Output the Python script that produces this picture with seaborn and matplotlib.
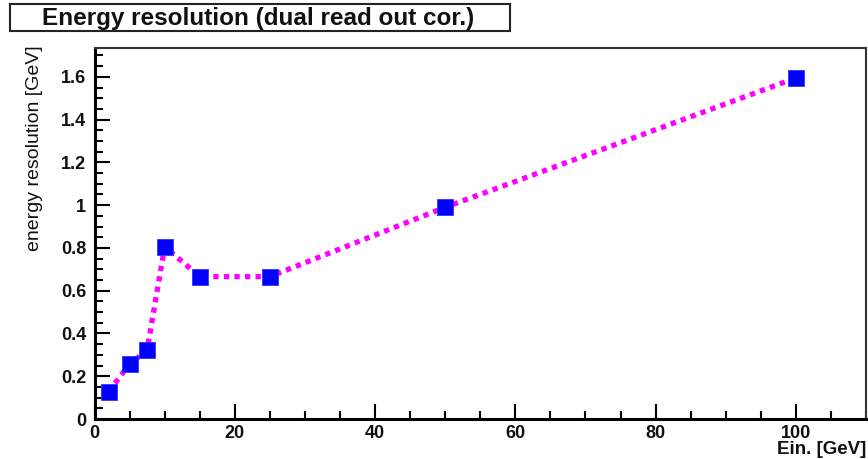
import matplotlib
matplotlib.use("Agg")
import matplotlib.pyplot as plt
from matplotlib.patches import Rectangle
from matplotlib.ticker import MultipleLocator, FuncFormatter
import seaborn as sns
import pandas as pd

# Beam energy and measured energy resolution
energy_in = [2, 5, 7.5, 10, 15, 25, 50, 100]
resolution = [0.128, 0.257, 0.323, 0.806, 0.666, 0.666, 0.990, 1.595]

title_text = "Energy resolution (dual read out cor.)"
x_label = "Ein. [GeV]"
y_label = "energy resolution [GeV]"

df = pd.DataFrame({"Ein": energy_in, "res": resolution})

sns.set_theme(style="white")
plt.rcParams["font.family"] = ["Liberation Sans", "DejaVu Sans"]

fig = plt.figure(figsize=(8.68, 4.59), dpi=100)
ax = fig.add_axes([0.1089, 0.0871, 0.8888, 0.8083])

sns.lineplot(data=df, x="Ein", y="res", ax=ax, color="#ff00ff",
             linewidth=3.8, linestyle=(0, (1, 1)), zorder=2)
sns.scatterplot(data=df, x="Ein", y="res", ax=ax, color="#0000ff",
                marker="s", s=120, edgecolor="#3333ff", linewidth=0.6,
                zorder=3)

ax.set_xlim(0, 110)
ax.set_ylim(0, 1.735)
ax.set_xlabel("")
ax.set_ylabel("")

ax.xaxis.set_major_locator(MultipleLocator(20))
ax.xaxis.set_minor_locator(MultipleLocator(5))
ax.yaxis.set_major_locator(MultipleLocator(0.2))
ax.yaxis.set_minor_locator(MultipleLocator(0.05))
ax.yaxis.set_major_formatter(FuncFormatter(lambda v, p: f"{v:g}"))
ax.xaxis.set_major_formatter(FuncFormatter(lambda v, p: f"{v:g}"))

ax.tick_params(axis="both", which="major", direction="in", length=11,
               width=1.5, color="black", labelsize=13, labelcolor="#111111")
ax.tick_params(axis="both", which="minor", direction="in", length=6,
               width=1.5, color="black")
ax.tick_params(axis="y", which="both", left=True, right=False, pad=6)
ax.tick_params(axis="x", which="both", bottom=True, top=False, pad=4)
for lab in ax.get_xticklabels() + ax.get_yticklabels():
    lab.set_fontweight("bold")

for side in ("left", "bottom"):
    ax.spines[side].set_color("black")
    ax.spines[side].set_linewidth(2.2)
for side in ("top", "right"):
    ax.spines[side].set_color("#333333")
    ax.spines[side].set_linewidth(1.5)

# Axis titles placed at the far ends of the axes
ax.text(1.0, -0.058, x_label, transform=ax.transAxes, ha="right", va="top",
        fontsize=13.5, fontweight="bold", color="#111111")
ax.text(-0.078, 1.008, y_label, transform=ax.transAxes, ha="center", va="top",
        rotation=90, fontsize=14, color="#111111")

# Title box
fig.patches.append(Rectangle((10 / 868, 1 - 31 / 459), 500 / 868, 27 / 459,
                             transform=fig.transFigure, facecolor="white",
                             edgecolor="#222222", linewidth=1.5))
fig.text(258 / 868, 1 - 18 / 459, title_text, ha="center", va="center",
         fontsize=17.5, fontweight="bold", color="#111111")

fig.savefig("out.png", dpi=100, facecolor="white")
